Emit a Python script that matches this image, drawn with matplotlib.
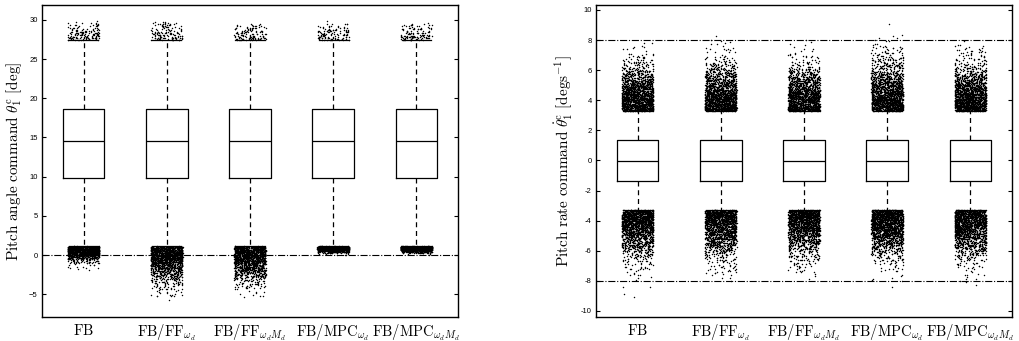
import matplotlib
matplotlib.use("Agg")
import matplotlib.pyplot as plt
from matplotlib.ticker import FuncFormatter
import numpy as np

plt.rcParams["mathtext.fontset"] = "cm"
plt.rcParams["font.family"] = "Liberation Sans"

labels = [r"$\mathrm{FB}$", r"$\mathrm{FB/FF}_{\omega_d}$", r"$\mathrm{FB/FF}_{\omega_d M_d}$",
          r"$\mathrm{FB/MPC}_{\omega_d}$", r"$\mathrm{FB/MPC}_{\omega_d M_d}$"]

# pitch angle command box stats [deg]
ang_med = [14.6, 14.6, 14.6, 14.6, 14.6]
ang_q1 = [9.8, 9.8, 9.8, 9.8, 9.8]
ang_q3 = [18.6, 18.6, 18.6, 18.6, 18.6]
ang_lo = [1.1, 1.1, 1.1, 1.1, 1.1]
ang_hi = [27.4, 27.4, 27.4, 27.4, 27.4]
# outlier clouds: count, spread, limit
ang_up_n = [160, 140, 140, 130, 130]
ang_up_sd = [1.3, 1.3, 1.3, 1.3, 1.3]
ang_up_max = [30.0, 29.8, 29.6, 29.8, 29.7]
ang_dn_n = [1100, 1500, 1500, 1100, 1100]
ang_dn_sd = [0.9, 2.2, 2.1, 0.35, 0.35]
ang_dn_min = [-2.3, -6.1, -6.1, -0.15, -0.15]

# pitch rate command box stats [deg/s]
rate_med = [-0.03, -0.03, -0.03, -0.03, -0.03]
rate_q1 = [-1.38, -1.38, -1.38, -1.38, -1.38]
rate_q3 = [1.35, 1.35, 1.35, 1.35, 1.35]
rate_lo = [-3.3, -3.3, -3.3, -3.3, -3.3]
rate_hi = [3.3, 3.3, 3.3, 3.3, 3.3]
rate_up_n = [1700, 1700, 1600, 1750, 1700]
rate_up_sd = [1.5, 1.5, 1.45, 1.6, 1.55]
rate_up_max = [8.7, 8.8, 8.3, 9.3, 9.0]
rate_dn_n = [1700, 1700, 1600, 1750, 1700]
rate_dn_sd = [1.55, 1.5, 1.45, 1.5, 1.5]
rate_dn_min = [-9.5, -9.2, -8.6, -8.5, -8.6]

ang_ref = [0.0]
rate_ref = [-8.0, 8.0]

rng = np.random.default_rng(3)


def cloud(start, sd, n, lim, sign):
    y = start + sign * np.abs(rng.normal(0, sd, n))
    if sign > 0:
        return y[y <= lim]
    return y[y >= lim]


def panel(ax, med, q1, q3, lo, hi, up, dn, refs):
    stats = []
    for i in range(5):
        stats.append(dict(med=med[i], q1=q1[i], q3=q3[i], whislo=lo[i], whishi=hi[i], fliers=[]))
    ax.bxp(stats, positions=range(1, 6), widths=0.5, showfliers=False,
           boxprops=dict(color="k", lw=0.9), medianprops=dict(color="k", lw=0.9),
           whiskerprops=dict(color="k", lw=0.9, ls=(0, (4, 3))),
           capprops=dict(color="k", lw=0.9), capwidths=0.35)
    for i in range(5):
        y = np.concatenate([cloud(hi[i], up[1][i], up[0][i], up[2][i], 1),
                            cloud(lo[i], dn[1][i], dn[0][i], dn[2][i], -1)])
        x = i + 1 + rng.uniform(-0.19, 0.19, len(y))
        ax.plot(x, y, ".", color="k", ms=2.1, mew=0, zorder=3)
    for r in refs:
        ax.axhline(r, color="k", lw=0.8, ls="-.", zorder=1)
    ax.set_xlim(0.5, 5.5)
    ax.set_xticks(range(1, 6))
    ax.set_xticklabels(labels, fontsize=10.5)
    ax.tick_params(axis="x", length=0, pad=4)
    ax.tick_params(axis="y", direction="in", length=3, labelsize=5.5, right=True, pad=3)
    for s in ax.spines.values():
        s.set_linewidth(1.0)


fig = plt.figure(figsize=(10.19, 3.41), dpi=100)
ax1 = fig.add_axes([42 / 1019, 1 - 317 / 341, 416 / 1019, 312 / 341])
ax2 = fig.add_axes([596 / 1019, 1 - 317 / 341, 416 / 1019, 312 / 341])

panel(ax1, ang_med, ang_q1, ang_q3, ang_lo, ang_hi,
      (ang_up_n, ang_up_sd, ang_up_max), (ang_dn_n, ang_dn_sd, ang_dn_min), ang_ref)
ax1.set_ylim(-7.9, 31.9)
ax1.set_yticks([-5, 0, 5, 10, 15, 20, 25, 30])
ax1.set_ylabel(r"$\mathrm{Pitch\ angle\ command}\ \theta_1^{\mathrm{c}}\ \mathrm{[deg]}$", fontsize=11)

panel(ax2, rate_med, rate_q1, rate_q3, rate_lo, rate_hi,
      (rate_up_n, rate_up_sd, rate_up_max), (rate_dn_n, rate_dn_sd, rate_dn_min), rate_ref)
ax2.set_ylim(-10.4, 10.33)
ax2.set_yticks(range(-10, 11, 2))
ax2.yaxis.set_major_formatter(FuncFormatter(lambda v, p: "%d" % v))
ax2.set_ylabel(r"$\mathrm{Pitch\ rate\ command}\ \dot{\theta}_1^{\mathrm{c}}\ \mathrm{[deg s^{-1}]}$", fontsize=11)

fig.savefig("out.png", dpi=100)
